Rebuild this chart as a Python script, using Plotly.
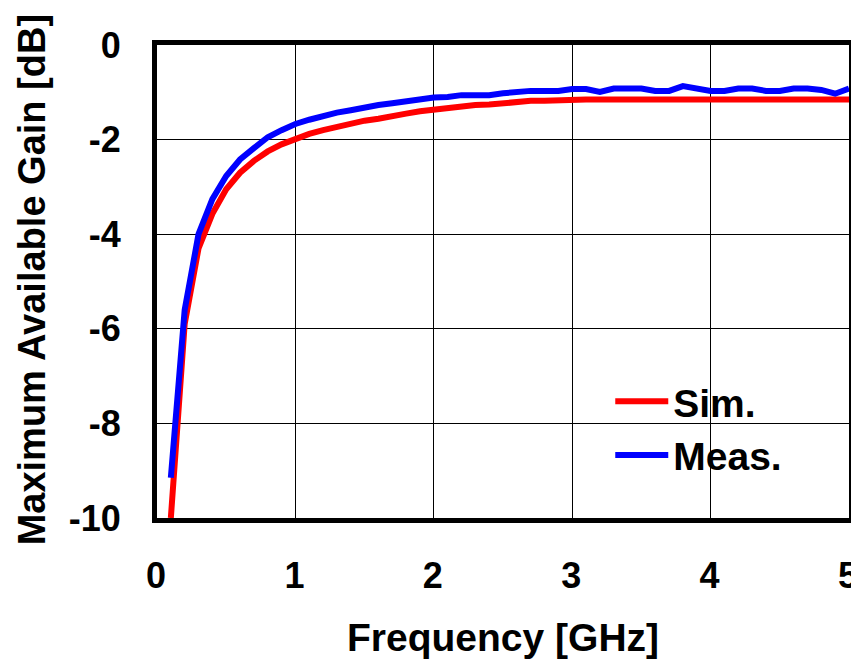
import plotly.graph_objects as go

freq = [0.1, 0.2, 0.3, 0.4, 0.5, 0.6, 0.7, 0.8, 0.9, 1.0,
        1.1, 1.2, 1.3, 1.4, 1.5, 1.6, 1.7, 1.8, 1.9, 2.0,
        2.1, 2.2, 2.3, 2.4, 2.5, 2.6, 2.7, 2.8, 2.9, 3.0,
        3.1, 3.2, 3.3, 3.4, 3.5, 3.6, 3.7, 3.8, 3.9, 4.0,
        4.1, 4.2, 4.3, 4.4, 4.5, 4.6, 4.7, 4.8, 4.9, 5.0]

sim = [-10.0, -5.9, -4.3, -3.57, -3.05, -2.7, -2.45, -2.25, -2.1, -1.98,
       -1.88, -1.8, -1.73, -1.68, -1.6, -1.56, -1.49, -1.45, -1.4, -1.36,
       -1.34, -1.3, -1.27, -1.26, -1.23, -1.2, -1.18, -1.18, -1.16, -1.15,
       -1.15, -1.15, -1.15, -1.14, -1.12, -1.12, -1.12, -1.12, -1.12, -1.12,
       -1.12, -1.12, -1.12, -1.12, -1.12, -1.12, -1.12, -1.12, -1.15, -1.15]

meas = [-9.15, -5.6, -4.0, -3.26, -2.77, -2.42, -2.18, -1.95, -1.8, -1.67,
        -1.58, -1.5, -1.43, -1.38, -1.31, -1.27, -1.23, -1.19, -1.14, -1.11,
        -1.1, -1.06, -1.06, -1.06, -1.02, -0.98, -0.97, -0.97, -0.97, -0.93,
        -0.93, -0.99, -0.92, -0.92, -0.92, -0.97, -0.97, -0.87, -0.93, -0.97,
        -0.97, -0.92, -0.92, -0.97, -0.97, -0.92, -0.92, -0.95, -1.03, -0.92]

x_ticks = [0, 1, 2, 3, 4, 5]
y_ticks = [0, -2, -4, -6, -8, -10]

FONT = "Liberation Sans, Arial, sans-serif"

fig = go.Figure()
fig.add_trace(go.Scatter(x=freq, y=sim, mode="lines", name="Sim.",
                         line=dict(color="#ff0000", width=6)))
fig.add_trace(go.Scatter(x=freq, y=meas, mode="lines", name="Meas.",
                         line=dict(color="#0000ff", width=6)))

fig.update_layout(
    width=859, height=659,
    margin=dict(l=149, r=9, t=37, b=149),
    paper_bgcolor="white", plot_bgcolor="white",
    font=dict(family=FONT, color="black"),
    showlegend=True,
    legend=dict(x=0.655, y=0.314, xanchor="left", yanchor="top",
                bgcolor="rgba(0,0,0,0)", borderwidth=0,
                font=dict(family=FONT, size=39, color="black", weight="bold"),
                itemwidth=53, tracegroupgap=0),
    annotations=[
        dict(text="<b>Frequency [GHz]</b>", xref="paper", yref="paper",
             x=0.5, y=-0.253, xanchor="center", yanchor="middle",
             showarrow=False, font=dict(family=FONT, size=39, color="black")),
        dict(text="<b>Maximum Available Gain [dB]</b>", xref="paper", yref="paper",
             x=-0.181, y=0.504, xanchor="center", yanchor="middle", textangle=-90,
             showarrow=False, font=dict(family=FONT, size=38, color="black")),
    ],
)

fig.update_xaxes(range=[0, 5], tickvals=x_ticks, ticktext=[f"<b>{v}</b>" for v in x_ticks],
                 showgrid=True, gridcolor="black", gridwidth=1,
                 showline=True, linecolor="black", linewidth=5, mirror=True,
                 zeroline=False, ticks="", ticklabelstandoff=22, ticklabelshift=-1,
                 tickfont=dict(family=FONT, size=36, color="black"))
fig.update_yaxes(range=[-10, 0], tickvals=y_ticks, ticktext=[f"<b>{v}</b>" for v in y_ticks],
                 showgrid=True, gridcolor="black", gridwidth=1,
                 showline=True, linecolor="black", linewidth=5, mirror=True,
                 zeroline=False, ticks="", ticklabelstandoff=24,
                 tickfont=dict(family=FONT, size=36, color="black"))

fig.write_html("out.html")
